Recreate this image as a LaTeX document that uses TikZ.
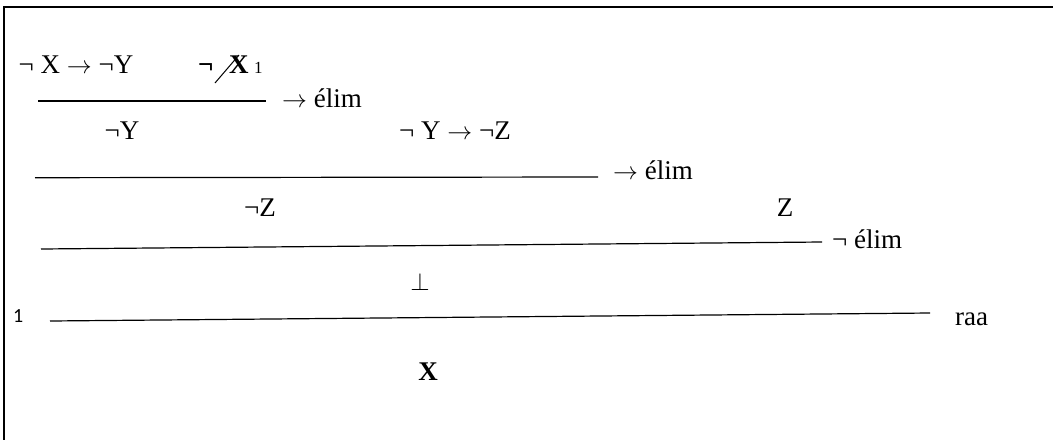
\documentclass[tikz,border=0pt]{standalone}
\usepackage{fontspec}
\setmainfont{Liberation Serif}
\newfontfamily\numfont{Carlito}
\usepackage{tikz}

\begin{document}
\begin{tikzpicture}[x=1pt, y=-1pt, font=\fontsize{27}{31}\selectfont,
  f/.style={inner sep=0pt, anchor=base},
  lbl/.style={inner sep=0pt, anchor=base west},
  rule/.style={draw=black, line width=1.2pt}]
\useasboundingbox (0,0) rectangle (1053,440);
\draw[line width=1.2pt] (1053,7) -- (4,7) -- (4,440);
% premisses
\node[f] (hyp1) at (76,73) {¬ X $\to$ ¬Y};
\node[lbl] (negb) at (198,73) {\bfseries ¬};
\node[lbl] (xs) at (229,73) {\bfseries X};
\node[lbl, font=\fontsize{17}{19}\selectfont] (mk1) at (254,73) {1};
\draw[line width=1pt] ([shift={(-14,10)}]xs.base west) -- ([shift={(10,-18)}]xs.base west);
\coordinate (a1) at (38,101); \coordinate (b1) at (266,101);
\draw[rule] (a1) -- (b1);
\node[lbl] (r1) at (282,107) {$\to$ élim};
\node[f] (ny) at (122,139) {¬Y};
\node[f] (hyp2) at (455,139) {¬ Y $\to$ ¬Z};
\coordinate (a2) at (35,177.7); \coordinate (b2) at (598,177);
\draw[rule] (a2) -- (b2);
\node[lbl] (r2) at (613,179) {$\to$ élim};
\node[f] (nz) at (260,216) {¬Z};
\node[f] (z) at (785,216) {Z};
\coordinate (a3) at (41,249); \coordinate (b3) at (822,242);
\draw[rule] (a3) -- (b3);
\node[lbl] (r3) at (832,248) {¬ élim};
\node[f, font=\fontsize{32}{36}\selectfont] (bot) at (420,290) {$\bot$};
\node[lbl, font=\numfont\fontsize{20}{22}\selectfont] (mk2) at (13,322.7) {1};
\coordinate (a4) at (50,321); \coordinate (b4) at (930,313);
\draw[rule] (a4) -- (b4);
\node[lbl] (r4) at (955,325) {raa};
\node[f] (concl) at (428,380) {\bfseries X};
\end{tikzpicture}
\end{document}
